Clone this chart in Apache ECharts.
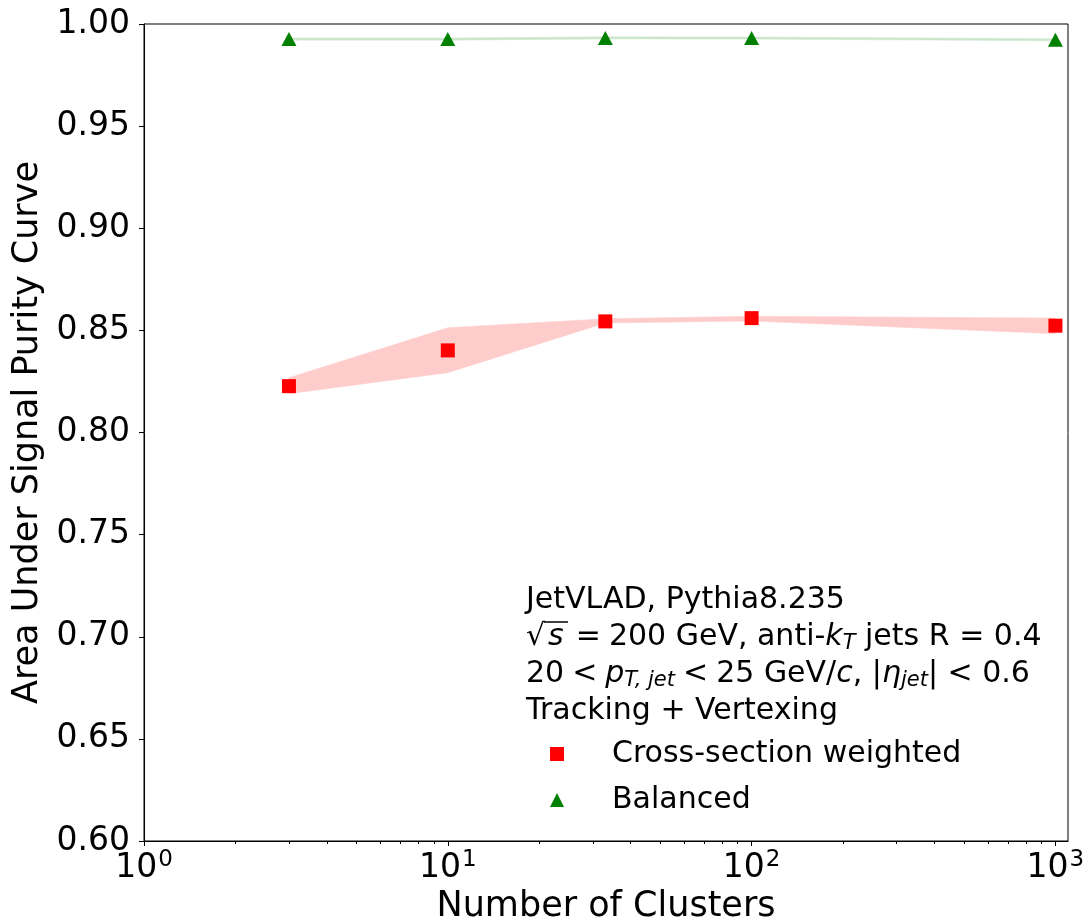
<!DOCTYPE html>
<html>
<head>
<meta charset="utf-8">
<script src="https://cdn.jsdelivr.net/npm/echarts@6/dist/echarts.min.js"></script>
<style>
html,body{margin:0;padding:0;background:#fff;}
#chart{width:1084px;height:921px;}
</style>
</head>
<body>
<div id="chart"></div>
<script>
// ---- data ----
const clusters = [3, 10, 33, 100, 1000];
const crossWeighted = [0.8227, 0.8402, 0.8544, 0.8560, 0.8523];
const crossUpper = [0.8268, 0.8513, 0.8557, 0.8569, 0.8560];
const crossLower = [0.8190, 0.8293, 0.8536, 0.8546, 0.8484];
const balanced = [0.9926, 0.9926, 0.9932, 0.9931, 0.9923];
const balancedUpper = [0.9931, 0.9931, 0.9937, 0.9936, 0.9928];
const balancedLower = [0.9921, 0.9921, 0.9927, 0.9926, 0.9918];
const xMajorTicks = [1, 10, 100, 1000];
const xMinorTicks = [2,3,4,5,6,7,8,9,20,30,40,50,60,70,80,90,200,300,400,500,600,700,800,900];
const yTicks = [0.60, 0.65, 0.70, 0.75, 0.80, 0.85, 0.90, 0.95, 1.00];
const seriesNames = ['Cross-section weighted', 'Balanced'];

const FONT = 'DejaVu Sans';
const chart = echarts.init(document.getElementById('chart'), null, {renderer: 'canvas'});

function bandSeries(name, xs, up, lo, color) {
  return {
    type: 'custom',
    name: name,
    coordinateSystem: 'cartesian2d',
    xAxisIndex: 0, yAxisIndex: 0,
    silent: true,
    z: 1,
    data: xs.map((x, i) => [x, up[i], lo[i]]),
    encode: {x: 0, y: [1, 2]},
    renderItem: function (params, api) {
      if (params.dataIndex !== 0) return null;
      const pts = [];
      for (let i = 0; i < xs.length; i++) pts.push(api.coord([xs[i], up[i]]));
      for (let i = xs.length - 1; i >= 0; i--) pts.push(api.coord([xs[i], lo[i]]));
      return {type: 'polygon', shape: {points: pts}, style: {fill: color, stroke: color, lineWidth: 0.5}};
    }
  };
}

const n = {fontFamily: FONT, fontSize: 30, color: '#000', lineHeight: 37};
const it = {fontFamily: FONT, fontSize: 30, fontStyle: 'italic', color: '#000', lineHeight: 37};
const sv = {fontFamily: FONT, fontSize: 30, fontStyle: 'italic', color: '#000', lineHeight: 37, padding: [0, 4, 0, 3]};
const rel = {fontFamily: FONT, fontSize: 30, color: '#000', lineHeight: 37, padding: [0, 8, 0, 8]};
const sub = {fontFamily: FONT, fontSize: 21, fontStyle: 'italic', color: '#000', lineHeight: 37, padding: [14, 0, 0, 0]};

const option = {
  backgroundColor: '#fff',
  animation: false,
  grid: {left: 144, right: 16, top: 24, bottom: 80, containLabel: false, outerBoundsMode: 'none',
         show: true, borderColor: '#000', borderWidth: 1, backgroundColor: 'transparent'},
  xAxis: [
    {
      type: 'log', logBase: 10, min: 1, max: 1100, gridIndex: 0, position: 'bottom',
      name: 'Number of Clusters', nameLocation: 'middle', nameGap: 46,
      nameTextStyle: {fontFamily: FONT, fontSize: 35, color: '#000'},
      axisLine: {show: true, lineStyle: {color: '#000', width: 1}},
      axisTick: {show: true, inside: false, length: 5, lineStyle: {color: '#000', width: 1}, customValues: xMajorTicks},
      splitLine: {show: false}, minorTick: {show: false},
      axisLabel: {
        show: true, margin: 8, customValues: xMajorTicks,
        formatter: function (v) { return '{b|10}{s|' + Math.round(Math.log10(v)) + '}'; },
        rich: {
          b: {fontFamily: FONT, fontSize: 33, color: '#000'},
          s: {fontFamily: FONT, fontSize: 23, color: '#000', padding: [0, 0, 16, 1]}
        }
      }
    },
    {
      type: 'log', logBase: 10, min: 1, max: 1100, gridIndex: 0, position: 'bottom',
      axisLine: {show: false},
      axisTick: {show: true, inside: false, length: 3, lineStyle: {color: '#000', width: 1}, customValues: xMinorTicks},
      axisLabel: {show: false}, splitLine: {show: false}
    }
  ],
  yAxis: {
    type: 'value', min: 0.6, max: 1.0, interval: 0.05,
    name: 'Area Under Signal Purity Curve', nameLocation: 'middle', nameGap: 94,
    nameTextStyle: {fontFamily: FONT, fontSize: 35, color: '#000'},
    axisLine: {show: true, lineStyle: {color: '#000', width: 1}},
    axisTick: {show: true, inside: false, length: 5, lineStyle: {color: '#000', width: 1}},
    splitLine: {show: false},
    axisLabel: {
      margin: 14, fontFamily: FONT, fontSize: 33, color: '#000',
      formatter: function (v) { return v.toFixed(2); }
    }
  },
  legend: {
    orient: 'vertical', left: 550, top: 739, padding: 0, itemGap: 16,
    itemWidth: 14, itemHeight: 14, selectedMode: false,
    textStyle: {fontFamily: FONT, fontSize: 30, color: '#000', padding: [0, 0, 0, 43]},
    data: [{name: seriesNames[0], icon: 'rect'}, {name: seriesNames[1], icon: 'triangle'}]
  },
  graphic: [
    {
      type: 'text', left: 526, top: 585,
      style: {
        text: '{n|JetVLAD, Pythia8.235}\n' +
              '{n|\u221A}{sv|s}{rel|=}{n|200 GeV, anti-}{i|k}{sub|T}{n| jets R = 0.4}\n' +
              '{n|20}{rel|<}{i|p}{sub|T, jet}{rel|<}{n|25 GeV/}{i|c}{n|, |}{i|\u03B7}{sub|jet}{n|| < 0.6}\n' +
              '{n|Tracking + Vertexing}',
        rich: {n: n, i: it, sv: sv, rel: rel, sub: sub},
        fill: '#000'
      },
      z: 100
    },
    {
      type: 'line', shape: {x1: 544, y1: 622, x2: 568, y2: 622},
      style: {stroke: '#000', lineWidth: 1.5}, z: 100
    }
  ],
  series: [
    bandSeries('crossBand', clusters, crossUpper, crossLower, '#ffcccc'),
    bandSeries('balancedBand', clusters, balancedUpper, balancedLower, '#cce6cc'),
    {
      type: 'scatter', name: seriesNames[0], xAxisIndex: 0, yAxisIndex: 0, z: 3,
      symbol: 'rect', symbolSize: 14,
      itemStyle: {color: '#ff0000', opacity: 1},
      data: clusters.map((x, i) => [x, crossWeighted[i]])
    },
    {
      type: 'scatter', name: seriesNames[1], xAxisIndex: 0, yAxisIndex: 0, z: 3,
      symbol: 'triangle', symbolSize: [15, 14],
      itemStyle: {color: '#008000', opacity: 1},
      data: clusters.map((x, i) => [x, balanced[i]])
    }
  ]
};
chart.setOption(option);
</script>
</body>
</html>
